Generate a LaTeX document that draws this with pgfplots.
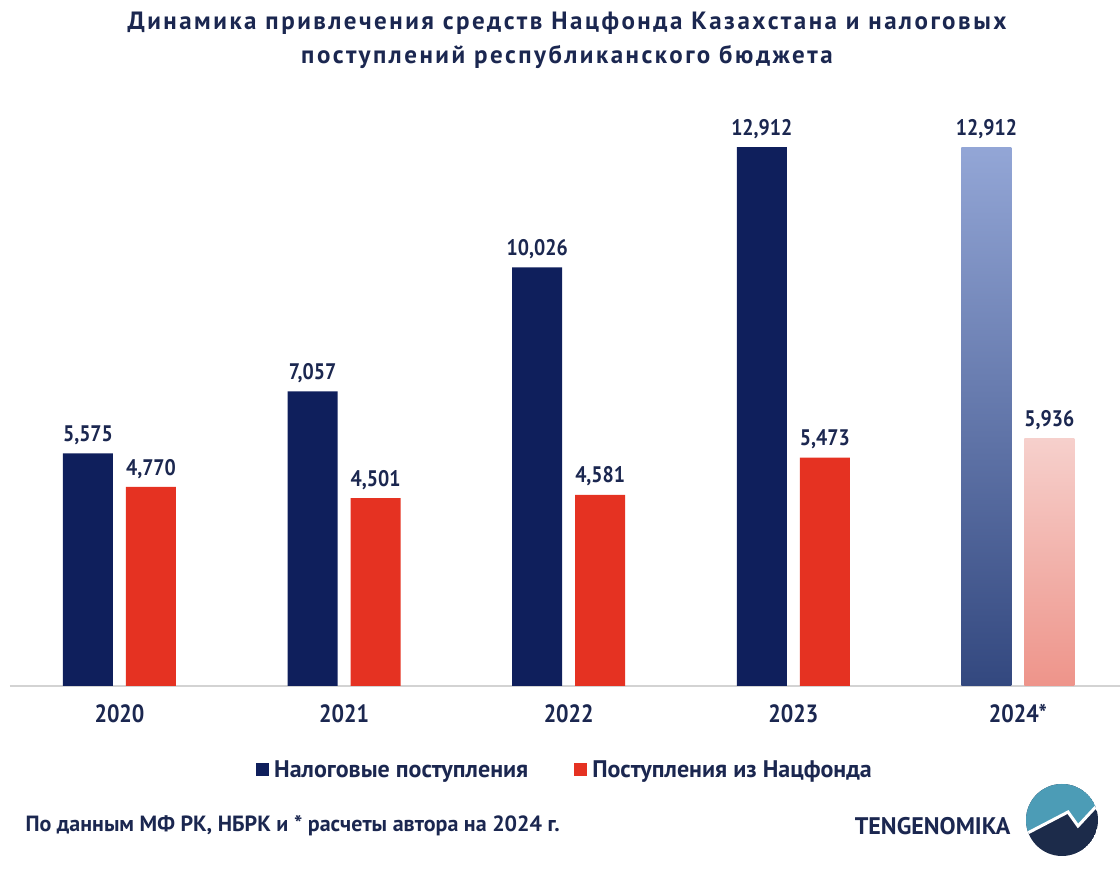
\documentclass[border=0pt]{standalone}
\usepackage{fontspec}
\setmainfont{PT Sans}
\newfontfamily\numfont{PT Sans}[FakeStretch=0.88]
\newfontfamily\titlefont{PT Sans}[LetterSpace=10]
\usepackage{pgfplots}
\pgfplotsset{compat=1.18}

\definecolor{navy}{HTML}{0F1F5C}
\definecolor{redbar}{HTML}{E53222}
\definecolor{txt}{HTML}{1B2750}
\definecolor{blueT}{HTML}{93A6D6}
\definecolor{blueM}{HTML}{5A7BCB}
\definecolor{blueB}{HTML}{33487F}
\definecolor{pinkT}{HTML}{F6D0CC}
\definecolor{pinkB}{HTML}{EE948A}
\definecolor{teal}{HTML}{4C9CB6}
\definecolor{logonavy}{HTML}{1C2B4A}
\definecolor{axisgray}{HTML}{D3D3D3}

\begin{document}
\begin{tikzpicture}
\path[use as bounding box] (0pt,0pt) rectangle (1120pt,869pt);

\node[font=\titlefont\bfseries\fontsize{25}{34}\selectfont, text=txt, align=center]
  at (567pt,829pt) {Динамика привлечения средств Нацфонда Казахстана и налоговых\\поступлений республиканского бюджета};

\begin{axis}[
  at={(10pt,183pt)}, anchor=south west,
  scale only axis, width=1110pt, height=584.4pt,
  xmin=-0.4875, xmax=4.4545, ymin=0, ymax=14000,
  axis x line=bottom, axis y line=none,
  axis line style={axisgray, line width=2pt, -},
  xtick={0,1,2,3,4}, xticklabels={2020,2021,2022,2023,2024*},
  major tick length=0pt,
  x tick label style={font=\numfont\bfseries\fontsize{25}{28}\selectfont, text=txt, yshift=-15pt},
  /pgf/number format/assume math mode=true,
  /pgf/number format/1000 sep={,},
  nodes near coords,
  nodes near coords style={font=\numfont\bfseries\fontsize{22.5}{26}\selectfont, text=txt, anchor=south, yshift=5pt},
  legend columns=2,
  legend style={at={(0.5,-0.1437)}, anchor=center, draw=none, fill=none,
    font=\bfseries\fontsize{24}{28}\selectfont, text=txt,
    /tikz/every odd column/.append style={column sep=3pt},
    /tikz/every even column/.append style={column sep=44pt}},
  legend image code/.code={\fill[#1] (0pt,-6.5pt) rectangle (13pt,6.5pt);},
]
\addplot[ybar, bar width=50pt, bar shift=-31.5pt, fill=navy, draw=none,
  every node near coord/.append style={xshift=-31.5pt}]
  coordinates {(0,5575) (1,7057) (2,10026) (3,12912)};
\addlegendentry{Налоговые поступления}
\addplot[ybar, bar width=50pt, bar shift=31.5pt, fill=redbar, draw=none,
  every node near coord/.append style={xshift=31.5pt}]
  coordinates {(0,4770) (1,4501) (2,4581) (3,5473)};
\addlegendentry{Поступления из Нацфонда}
\addplot[ybar, bar width=50pt, bar shift=-31.5pt, draw=none, forget plot,
  top color=blueT, middle color=blueM, bottom color=blueB,
  every node near coord/.append style={xshift=-31.5pt}]
  coordinates {(4,12912)};
\addplot[ybar, bar width=50pt, bar shift=31.5pt, draw=none, forget plot,
  top color=pinkT, bottom color=pinkB,
  every node near coord/.append style={xshift=31.5pt}]
  coordinates {(4,5936)};
\end{axis}

\node[anchor=west, font=\bfseries\fontsize{22}{26}\selectfont, text=txt]
  at (22pt,43pt) {По данным МФ РК, НБРК и * расчеты автора на 2024 г.};
\node[anchor=east, font=\bfseries\fontsize{24}{28}\selectfont, text=txt]
  at (1014pt,43pt) {TENGENOMIKA};

% logo
\begin{scope}
  \clip (1062pt,49pt) circle (36pt);
  \fill[logonavy] (1062pt,49pt) circle (36pt);
  \fill[teal] (1020pt,32pt) -- (1068pt,57pt) -- (1078pt,43pt) -- (1104pt,71pt)
    -- (1104pt,90pt) -- (1020pt,90pt) -- cycle;
  \draw[white, line width=3pt] (1020pt,32pt) -- (1068pt,57pt) -- (1078pt,43pt) -- (1104pt,71pt);
\end{scope}
\end{tikzpicture}
\end{document}
